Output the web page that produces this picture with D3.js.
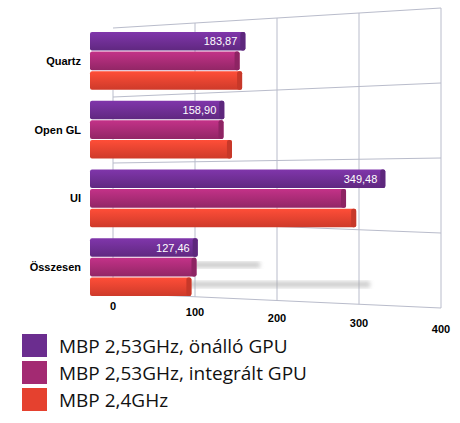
<!DOCTYPE html>
<html><head><meta charset="utf-8">
<script src="https://cdn.jsdelivr.net/npm/d3@7"></script>
<style>body{margin:0;background:#fff}</style>
</head><body><svg id="chart" width="460" height="423"></svg>
<script>
// chart data
var categories = ["Quartz", "Open GL", "UI", "Összesen"];
var seriesNames = ["MBP 2,53GHz, önálló GPU", "MBP 2,53GHz, integrált GPU", "MBP 2,4GHz"];
var discreteGPU = [183.87, 158.90, 349.48, 127.46];
var integratedGPU = [177, 158, 303, 126];
var mbp24 = [180, 168, 315, 120];
var valueLabels = ["183,87", "158,90", "349,48", "127,46"];
var ticks = [0, 100, 200, 300, 400];
var colors = ["#6b2d8f", "#a32a72", "#e5412f"];

var svg = d3.select("#chart");
var defs = svg.append("defs");
defs.append("filter").attr("id", "blur").append("feGaussianBlur").attr("stdDeviation", 2);
colors.forEach(function (c, i) {
    var g = defs.append("linearGradient").attr("id", "g" + i).attr("x1", 0).attr("x2", 0).attr("y1", 0).attr("y2", 1);
    g.append("stop").attr("offset", 0).attr("stop-color", d3.color(c).brighter(0.5));
    g.append("stop").attr("offset", 1).attr("stop-color", d3.color(c).darker(0.3));
});

//perspective grid: tick x positions and skewed top/bottom
var gridX = d3.scaleLinear().domain([0, 400]).range([113, 441]);
var gridTop = d3.scaleLinear().domain([0, 400]).range([28, 8]);
var gridBottom = d3.scaleLinear().domain([0, 400]).range([293, 308]);
var grid = svg.append("g").attr("stroke", "#b9bccb").attr("stroke-width", 1);
ticks.forEach(function (t) {
    grid.append("line").attr("x1", gridX(t)).attr("x2", gridX(t))
        .attr("y1", t == 0 ? 90 : gridTop(t)).attr("y2", gridBottom(t));
});
var rows = [[28, 8], [97, 83], [163, 158], [220, 233], [293, 308]];
rows.forEach(function (r) {
    grid.append("line").attr("x1", 113).attr("x2", 441).attr("y1", r[0]).attr("y2", r[1]);
});
//tick labels
svg.append("g").selectAll("text").data(ticks).join("text")
    .attr("x", d => gridX(d)).attr("y", d => gridBottom(d) + 17 + d / 100 * 2)
    .attr("text-anchor", "middle").attr("font-family", "Liberation Sans, Arial").attr("font-weight", "bold")
    .attr("font-size", 11).text(d => d);

//bars
var x = d3.scaleLinear().domain([0, 400]).range([90, 428]);
var y = d3.scaleBand().domain(categories).range([32, 296]).paddingInner(0.16);
var bandY = d3.scaleBand().domain([0, 1, 2]).range([0, y.bandwidth()]).paddingInner(0.05);
var series = [discreteGPU, integratedGPU, mbp24];

//blurred shadows behind last group
var last = categories[3];
[[1, 120, 260], [2, 110, 370]].forEach(function (s) {
    svg.append("rect").attr("x", x(s[1])).attr("width", s[2] - x(s[1]))
        .attr("y", y(last) + bandY(s[0]) + 4).attr("height", 6)
        .attr("fill", "#aaa").attr("filter", "url(#blur)").attr("opacity", 0.6);
});

series.forEach(function (vals, si) {
    svg.append("g").selectAll("rect").data(vals).join("rect")
        .attr("x", x(0)).attr("y", (d, i) => y(categories[i]) + bandY(si))
        .attr("width", d => x(d) - x(0)).attr("height", bandY.bandwidth())
        .attr("rx", 2).attr("fill", "url(#g" + si + ")");
    svg.append("g").selectAll("rect").data(vals).join("rect")
        .attr("x", d => x(d) - 5).attr("y", (d, i) => y(categories[i]) + bandY(si))
        .attr("width", 5).attr("height", bandY.bandwidth()).attr("rx", 2)
        .attr("fill", d3.color(colors[si]).darker(0.4));
});
svg.append("g").selectAll("text").data(discreteGPU).join("text")
    .attr("x", d => x(d) - 8).attr("y", (d, i) => y(categories[i]) + bandY(0) + bandY.bandwidth() / 2 + 4)
    .attr("text-anchor", "end").attr("fill", "#fff").attr("font-family", "Liberation Sans, Arial")
    .attr("font-size", 11).text((d, i) => valueLabels[i]);

//category labels
svg.append("g").selectAll("text").data(categories).join("text")
    .attr("x", 81).attr("y", d => y(d) + y.bandwidth() / 2 + 4)
    .attr("text-anchor", "end").attr("font-family", "Liberation Sans, Arial").attr("font-weight", "bold")
    .attr("font-size", 11).text(d => d);

//legend
var legend = svg.append("g").selectAll("g").data(seriesNames).join("g")
    .attr("transform", (d, i) => "translate(22," + (334 + i * 27) + ")");
legend.append("rect").attr("width", 25).attr("height", 23).attr("fill", (d, i) => colors[i]);
legend.append("text").attr("x", 37).attr("y", 19).attr("font-family", "Open Sans, Liberation Sans")
    .attr("font-size", 19).attr("fill", "#111").text(d => d);
</script></body></html>
